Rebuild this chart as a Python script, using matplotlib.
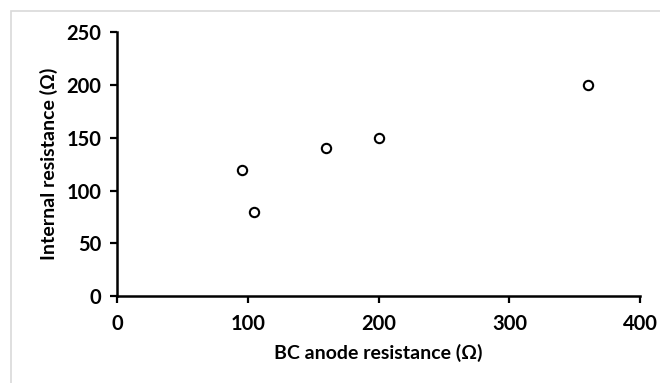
import matplotlib
matplotlib.use("Agg")
import matplotlib.pyplot as plt
from matplotlib.patches import Rectangle

# -------- DATA --------
anode_resistance = [96, 105, 160, 200, 360]      # BC anode resistance (ohm)
internal_resistance = [119, 80, 140, 150, 200]   # internal resistance (ohm)
x_ticks = [0, 100, 200, 300, 400]
y_ticks = [0, 50, 100, 150, 200, 250]
# ----------------------

plt.rcParams["font.family"] = ["Lato", "DejaVu Sans"]

fig = plt.figure(figsize=(6.6, 3.83), dpi=100)
ax = fig.add_axes([0.177, 0.227, 0.793, 0.689])

# light grey chart-area border (Excel style), runs off right/bottom edge
fig.patches.append(Rectangle((11 / 660, -0.1), 1.2, 1 - 11 / 383 + 0.1,
                             transform=fig.transFigure, fill=False,
                             edgecolor="#d9d9d9", linewidth=1.2, zorder=0))

ax.scatter(anode_resistance, internal_resistance, s=45, facecolors="white",
           edgecolors="black", linewidths=1.5, zorder=3, clip_on=False)

ax.set_xlim(0, 400)
ax.set_ylim(0, 250)
ax.set_xticks(x_ticks)
ax.set_yticks(y_ticks)

for side in ("top", "right"):
    ax.spines[side].set_visible(False)
for side in ("left", "bottom"):
    ax.spines[side].set_linewidth(1.8)

ax.tick_params(direction="out", length=5, width=1.6, labelsize=14.5, pad=6)
for lbl in ax.get_xticklabels() + ax.get_yticklabels():
    lbl.set_fontweight("bold")
ax.tick_params(axis="x", pad=8)

ax.set_xlabel("BC anode resistance (Ω)", fontsize=14, fontweight="bold", labelpad=7)
ax.set_ylabel("Internal resistance (Ω)", fontsize=14, fontweight="bold", labelpad=6)

fig.savefig("out.png", dpi=100)
